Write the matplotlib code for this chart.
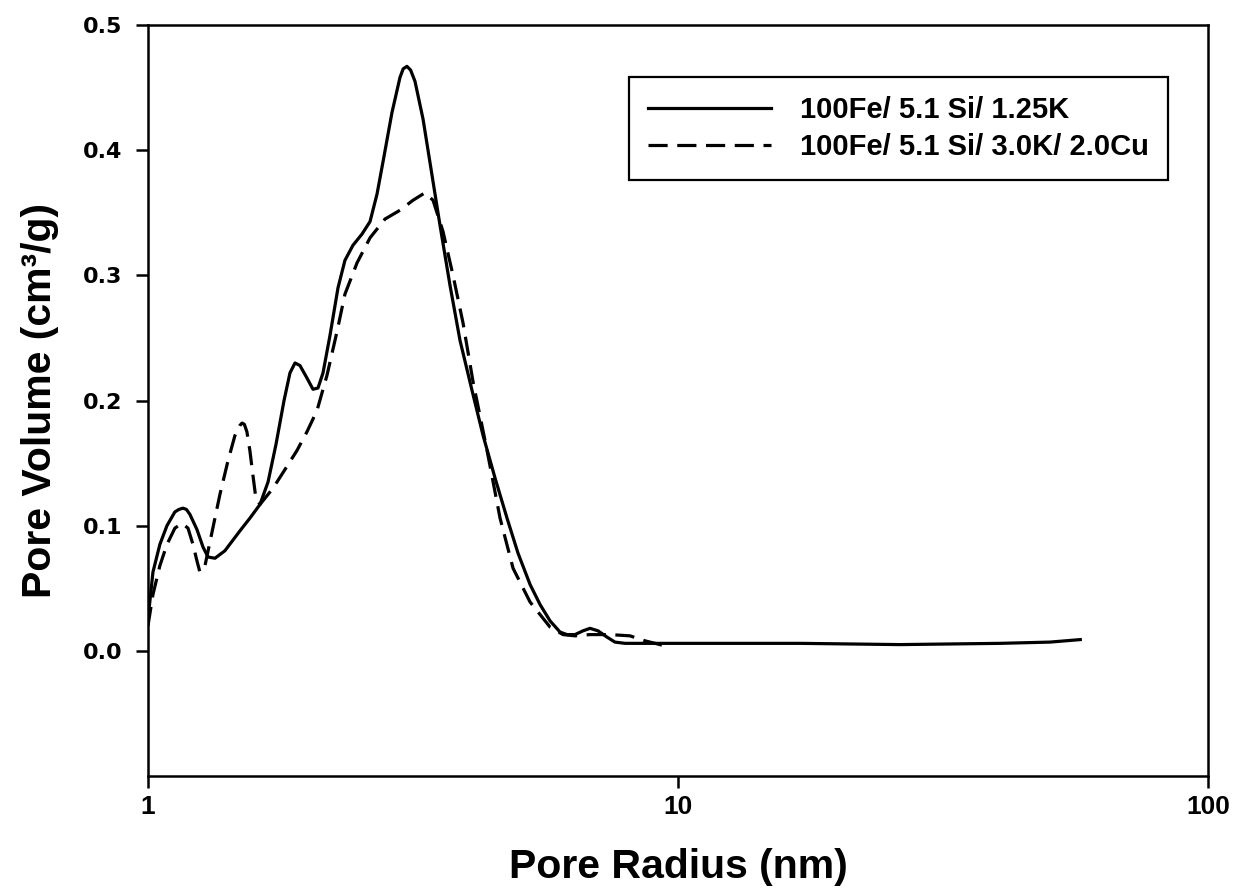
import matplotlib
matplotlib.use("Agg")
import matplotlib.pyplot as plt

# pore size distribution, catalyst 1 (solid)
radius_a = [1.000, 1.022, 1.053, 1.086, 1.124, 1.144, 1.164, 1.182, 1.200, 1.237,
            1.270, 1.298, 1.338, 1.397, 1.492, 1.557, 1.627, 1.685, 1.744, 1.806,
            1.853, 1.894, 1.935, 1.995, 2.048, 2.093, 2.139, 2.205, 2.283, 2.353,
            2.436, 2.534, 2.624, 2.705, 2.788, 2.886, 2.988, 3.030, 3.080, 3.130,
            3.190, 3.303, 3.420, 3.556, 3.714, 3.879, 4.087, 4.288, 4.517, 4.758,
            4.991, 5.259, 5.492, 5.735, 5.990, 6.174, 6.392, 6.618, 6.823, 7.065,
            7.345, 7.603, 7.943, 8.856, 11.0, 17.0, 26.2, 40.5, 50.3, 57.4]
volume_a = [0.025, 0.063, 0.085, 0.100, 0.111, 0.113, 0.114, 0.113, 0.109, 0.097,
            0.083, 0.075, 0.074, 0.080, 0.096, 0.106, 0.117, 0.135, 0.165, 0.200,
            0.222, 0.230, 0.228, 0.218, 0.209, 0.210, 0.222, 0.252, 0.290, 0.312,
            0.324, 0.333, 0.343, 0.365, 0.395, 0.430, 0.458, 0.465, 0.467, 0.464,
            0.455, 0.425, 0.385, 0.340, 0.292, 0.248, 0.208, 0.172, 0.138, 0.106,
            0.078, 0.053, 0.037, 0.024, 0.015, 0.013, 0.013, 0.016, 0.018, 0.016,
            0.011, 0.007, 0.006, 0.006, 0.006, 0.006, 0.005, 0.006, 0.007, 0.009]

# pore size distribution, catalyst 2 (dashed)
radius_b = [1.000, 1.022, 1.053, 1.086, 1.124, 1.159, 1.190, 1.216, 1.237, 1.253,
            1.281, 1.321, 1.367, 1.416, 1.459, 1.490, 1.505, 1.520, 1.537, 1.557,
            1.578, 1.598, 1.627, 1.663, 1.722, 1.814, 1.910, 1.995, 2.084, 2.176,
            2.273, 2.353, 2.480, 2.624, 2.800, 2.988, 3.162, 3.332, 3.450, 3.603,
            3.763, 3.930, 4.105, 4.363, 4.616, 4.884, 5.259, 5.735, 6.067, 6.392,
            6.823, 7.442, 8.117, 8.666, 9.248, 9.575]
volume_b = [0.020, 0.045, 0.068, 0.085, 0.098, 0.102, 0.098, 0.085, 0.072, 0.063,
            0.068, 0.095, 0.125, 0.152, 0.172, 0.180, 0.182, 0.181, 0.175, 0.160,
            0.140, 0.122, 0.117, 0.122, 0.130, 0.145, 0.160, 0.175, 0.192, 0.220,
            0.255, 0.285, 0.310, 0.330, 0.345, 0.352, 0.360, 0.366, 0.360, 0.335,
            0.300, 0.262, 0.215, 0.160, 0.106, 0.066, 0.039, 0.019, 0.013, 0.012,
            0.013, 0.013, 0.012, 0.008, 0.005, 0.003]

labels = ["100Fe/ 5.1 Si/ 1.25K", "100Fe/ 5.1 Si/ 3.0K/ 2.0Cu"]
y_ticks = [0.0, 0.1, 0.2, 0.3, 0.4, 0.5]
x_ticks = [1, 10, 100]

fig = plt.figure(figsize=(12.34, 8.88), dpi=100)
ax = fig.add_axes([0.1199, 0.1261, 0.8591, 0.8457])

ax.plot(radius_a, volume_a, color="black", lw=2.3, solid_joinstyle="round",
        label=labels[0])
ax.plot(radius_b, volume_b, color="black", lw=2.3, dashes=(6, 3),
        label=labels[1])

ax.set_xscale("log")
ax.set_xlim(1, 100)
ax.set_ylim(-0.1, 0.5)
ax.set_xticks(x_ticks)
ax.set_xticklabels([str(t) for t in x_ticks], fontfamily="Liberation Sans",
                   fontweight="bold", fontsize=19)
ax.minorticks_off()
ax.set_yticks(y_ticks)
ax.set_yticklabels(["%.1f" % t for t in y_ticks], fontfamily="DejaVu Sans",
                   fontweight="bold", fontsize=16)
ax.tick_params(direction="out", length=8.5, width=1.8)
ax.tick_params(axis="y", pad=10)
ax.tick_params(axis="x", pad=5)
for sp in ax.spines.values():
    sp.set_linewidth(1.8)

ax.set_xlabel("Pore Radius (nm)", fontfamily="Liberation Sans",
              fontweight="bold", fontsize=29.5, labelpad=21)
ax.set_ylabel("Pore Volume (cm³/g)", fontfamily="Liberation Sans",
              fontweight="bold", fontsize=29.5, labelpad=17)

leg = ax.legend(loc="upper left", bbox_to_anchor=(0.4538, 0.9308),
                borderaxespad=0, fancybox=False, framealpha=1,
                edgecolor="black", handlelength=4.2, handletextpad=1.0,
                borderpad=0.65, labelspacing=0.3,
                prop={"family": "Liberation Sans", "weight": "bold", "size": 21})
leg.get_frame().set_linewidth(1.6)

fig.savefig("out.png", dpi=100)
